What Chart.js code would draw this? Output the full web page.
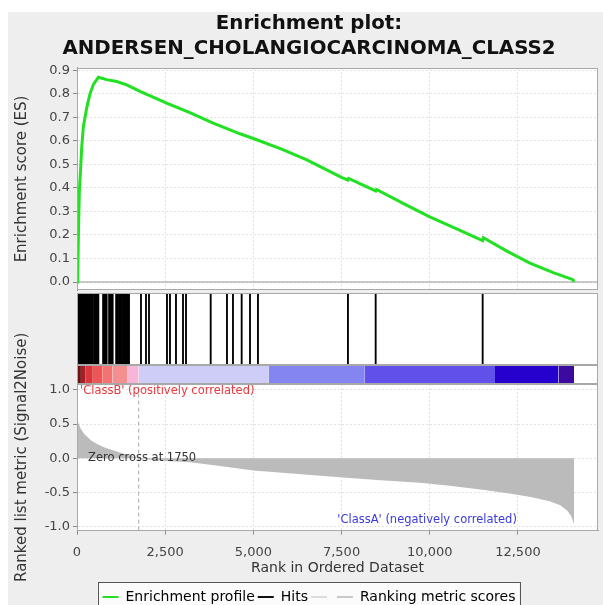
<!DOCTYPE html>
<html>
<head>
<meta charset="utf-8">
<script src="https://cdn.jsdelivr.net/npm/chart.js@4.4.0/dist/chart.umd.min.js"></script>
<style>
  html, body { margin: 0; padding: 0; background: #fff; }
  #page { position: relative; width: 603px; height: 605px; overflow: hidden; }
  #bg { position: absolute; left: 8px; top: 12px; right: 0; bottom: 0; background: #eeeeee; }
  canvas { position: absolute; left: 0; }
</style>
</head>
<body>
<div id="page">
  <div id="bg"></div>
  <canvas id="rankChart" style="top:292px;width:618px;height:313px" width="618" height="313"></canvas>
  <canvas id="esChart" style="top:0px;width:618px;height:292px" width="618" height="292"></canvas>
  <canvas id="hitsChart" style="top:293px;width:603px;height:72px" width="603" height="72"></canvas>
  <canvas id="barChart" style="top:365px;width:603px;height:19px" width="603" height="19"></canvas>
</div>
<script>
// axis ranges and ticks
const X_MAX = 14770;
const X_TICKS = [0, 2500, 5000, 7500, 10000, 12500];
const ES_TICKS = [0, 0.1, 0.2, 0.3, 0.4, 0.5, 0.6, 0.7, 0.8, 0.9];
const RANK_TICKS = [-1, -0.5, 0, 0.5, 1];
const ZERO_CROSS = 1750;

// running enrichment score
const esRank = [0, 20, 40, 65, 105, 133, 180, 275, 370, 465, 560, 605, 840, 1125, 1410, 1786, 2540, 3200, 3860,
  4620, 5000, 5800, 6500, 7500, 7680, 7700, 8470, 8490, 9300, 10000, 10700, 11420, 11500, 11520, 12200, 12840,
  13500, 14060, 14090];
const esScore = [0, 0.02, 0.2, 0.38, 0.49, 0.57, 0.66, 0.74, 0.80, 0.84, 0.86, 0.87, 0.86, 0.852, 0.838, 0.81,
  0.76, 0.72, 0.675, 0.63, 0.61, 0.565, 0.52, 0.445, 0.433, 0.44, 0.387, 0.393, 0.33, 0.277, 0.23, 0.181, 0.176,
  0.188, 0.13, 0.08, 0.04, 0.01, 0];

// positions of gene set members in the ranked list
const hitRanks = [35, 60, 85, 110, 135, 160, 185, 210, 235, 260, 285, 310, 335, 360, 385, 410, 430, 450,
  490, 515, 540, 565, 590, 605, 740, 765, 790, 815, 840, 910, 935, 960, 985, 1010, 1110, 1135, 1160,
  1195, 1220, 1245, 1270, 1305, 1330, 1355, 1380, 1405, 1430, 1455, 1474,
  1814, 1956, 2041, 2551, 2636, 2806, 3005, 3090, 3790, 4252, 4422, 4668, 4904, 5130, 7681, 8467, 11500];

// ranked list metric (signal2noise)
const metricRank = [0, 50, 100, 200, 400, 600, 800, 1000, 1300, 1500, 1750, 2200, 3200, 4000, 5000, 6000, 7450,
  8500, 9720, 10500, 11500, 12300, 12900, 13400, 13700, 13900, 14000, 14060, 14090];
const metricValue = [0.58, 0.50, 0.44, 0.36, 0.26, 0.20, 0.155, 0.12, 0.07, 0.04, 0, -0.03, -0.06, -0.11, -0.18,
  -0.22, -0.28, -0.32, -0.36, -0.40, -0.46, -0.52, -0.57, -0.63, -0.69, -0.77, -0.84, -0.92, -0.97];

// colour bar under the hits
const barEdges = [0, 110, 230, 450, 730, 1000, 1420, 1750, 5440, 8160, 11850, 13650, 14090];
const barColors = ['#6e1214', '#a51f24', '#d9373c', '#ee5656', '#f37272', '#f58e8e', '#f6b6d8',
  '#cdcdf7', '#8585f2', '#6150ea', '#2600cc', '#3d0aa0'];

const legendNames = ['Enrichment profile', 'Hits', '', 'Ranking metric scores'];
const legendColors = ['#22e022', '#111111', '#dcdcdc', '#c8c8c8'];

const FONT = 'DejaVu Sans';

const xy = (xs, ys) => xs.map((x, i) => ({ x: x, y: ys[i] }));

// white plot background and grey frame
const panelPlugin = {
  id: 'panel',
  beforeDraw(chart) {
    const a = chart.chartArea, ctx = chart.ctx;
    ctx.save();
    ctx.fillStyle = '#ffffff';
    ctx.fillRect(a.left, a.top, a.right - a.left, a.bottom - a.top);
    ctx.restore();
  },
  afterDraw(chart) {
    const a = chart.chartArea, ctx = chart.ctx;
    ctx.save();
    ctx.strokeStyle = '#a8a8a8';
    ctx.lineWidth = 1;
    ctx.strokeRect(Math.round(a.left) + 0.5, Math.round(a.top) + 0.5,
      Math.round(a.right - a.left) - 1, Math.round(a.bottom - a.top) - 1);
    ctx.restore();
  }
};

const fixTicks = list => scale => { scale.ticks = list.map(v => ({ value: v })); };

// empty right-hand axis: keeps the plot edge at 598 while title/legend centre on the wider canvas
const spacerAxis = {
  position: 'right',
  afterFit: s => { s.width = 20; },
  ticks: { display: false },
  grid: { display: false },
  border: { display: false }
};

// top panel: enrichment score
new Chart(document.getElementById('esChart'), {
  type: 'line',
  data: {
    datasets: [
      { data: xy(esRank, esScore), borderColor: '#22e022', borderWidth: 3, pointRadius: 0, tension: 0 },
      { data: [{ x: 0, y: 0 }, { x: X_MAX, y: 0 }], borderColor: '#999999', borderWidth: 1, pointRadius: 0 }
    ]
  },
  options: {
    responsive: false,
    animation: false,
    layout: { padding: { left: 0, right: 0, top: 0, bottom: 2 } },
    plugins: {
      legend: { display: false },
      tooltip: { enabled: false },
      title: {
        display: true,
        text: ['Enrichment plot:', 'ANDERSEN_CHOLANGIOCARCINOMA_CLASS2'],
        color: '#111',
        font: { family: FONT, size: 19.8, weight: 'bold', lineHeight: 1.26 },
        padding: { top: 11, bottom: 7 }
      }
    },
    scales: {
      x: {
        type: 'linear', min: 0, max: X_MAX,
        afterBuildTicks: fixTicks(X_TICKS),
        ticks: { display: false },
        grid: { color: '#e2e2e2', drawTicks: false },
        border: { display: false, dash: [2, 2] }
      },
      y: {
        min: -0.034, max: 0.91,
        afterBuildTicks: fixTicks(ES_TICKS),
        afterFit: s => { s.width = 77; s.paddingBottom = 0; },
        ticks: { color: '#444', font: { family: FONT, size: 13 }, padding: 3, callback: v => v.toFixed(1) },
        grid: { color: '#e2e2e2', tickColor: '#888', tickLength: 4 },
        border: { color: '#999', dash: [2, 2] },
        title: { display: true, text: 'Enrichment score (ES)', color: '#333', font: { family: FONT, size: 15 }, padding: { top: 13 } }
      },
      y2: spacerAxis
    }
  },
  plugins: [panelPlugin]
});

// hits
new Chart(document.getElementById('hitsChart'), {
  type: 'bar',
  data: {
    datasets: [{ data: hitRanks.map(r => ({ x: r, y: 1 })), backgroundColor: '#000', barThickness: 1.2, borderWidth: 0 }]
  },
  options: {
    responsive: false,
    animation: false,
    layout: { padding: { left: 77, right: 5 } },
    plugins: { legend: { display: false }, tooltip: { enabled: false } },
    scales: {
      x: { type: 'linear', min: 0, max: X_MAX, offset: false, display: false },
      y: { min: 0, max: 1, display: false }
    }
  },
  plugins: [panelPlugin]
});

// colour bar
new Chart(document.getElementById('barChart'), {
  type: 'line',
  data: {
    datasets: barColors.map((c, i) => ({
      data: [{ x: barEdges[i], y: 1 }, { x: barEdges[i + 1], y: 1 }],
      backgroundColor: c, borderColor: 'rgba(0,0,0,0)', fill: 'origin', pointRadius: 0
    }))
  },
  options: {
    responsive: false,
    animation: false,
    layout: { padding: { left: 77, right: 5 } },
    plugins: { legend: { display: false }, tooltip: { enabled: false } },
    scales: {
      x: { type: 'linear', min: 0, max: X_MAX, display: false },
      y: { min: 0, max: 1, display: false }
    }
  },
  plugins: [panelPlugin]
});

// labels inside the ranked panel, box round the legend
const rankExtras = {
  id: 'rankExtras',
  beforeDraw(chart) {
    const boxes = chart.legend && chart.legend.legendHitBoxes;
    if (!boxes || !boxes.length) return;
    const l = Math.min(...boxes.map(b => b.left)) - 5;
    const r = Math.max(...boxes.map(b => b.left + b.width)) + 4;
    const t = boxes[0].top - 8;
    const ctx = chart.ctx;
    ctx.save();
    ctx.fillStyle = '#fbfbfb';
    ctx.fillRect(l, t, r - l, 40);
    ctx.strokeStyle = '#555';
    ctx.lineWidth = 1;
    ctx.strokeRect(Math.round(l) + 0.5, Math.round(t) + 0.5, Math.round(r - l), 40);
    ctx.restore();
  },
  afterDatasetsDraw(chart) {
    const ctx = chart.ctx, xs = chart.scales.x, ys = chart.scales.y;
    ctx.save();
    ctx.font = '11.5px "' + FONT + '"';
    ctx.textBaseline = 'middle';
    ctx.textAlign = 'left';
    ctx.fillStyle = '#e8393f';
    ctx.fillText("'ClassB' (positively correlated)", xs.getPixelForValue(85), ys.getPixelForValue(0.98));
    ctx.fillStyle = '#333';
    ctx.fillText('Zero cross at ' + ZERO_CROSS, xs.getPixelForValue(312), ys.getPixelForValue(0));
    ctx.textAlign = 'right';
    ctx.fillStyle = '#3a3ad8';
    ctx.fillText("'ClassA' (negatively correlated)", xs.getPixelForValue(12470), ys.getPixelForValue(-0.9));
    ctx.restore();
  }
};

// bottom panel: ranked list metric
new Chart(document.getElementById('rankChart'), {
  type: 'line',
  data: {
    datasets: [
      { data: [{ x: ZERO_CROSS, y: -1.06 }, { x: ZERO_CROSS, y: 1.087 }], borderColor: '#aaaaaa', borderDash: [4, 3], borderWidth: 1, pointRadius: 0 },
      { data: xy(metricRank, metricValue), borderColor: 'rgba(0,0,0,0)', backgroundColor: '#bbbbbb', fill: 'origin', pointRadius: 0, tension: 0 }
    ]
  },
  options: {
    responsive: false,
    animation: false,
    layout: { padding: { left: 0, right: 0, top: 92, bottom: -9 } },
    plugins: {
      tooltip: { enabled: false },
      legend: {
        display: true,
        position: 'bottom',
        labels: {
          font: { family: FONT, size: 14 },
          color: '#222',
          boxWidth: 16,
          boxHeight: 2,
          padding: 3,
          generateLabels: () => legendNames.map((n, i) => ({
            text: n, fillStyle: legendColors[i], strokeStyle: legendColors[i], lineWidth: 0, hidden: false
          }))
        }
      }
    },
    scales: {
      x: {
        type: 'linear', min: 0, max: X_MAX,
        afterBuildTicks: fixTicks(X_TICKS),
        ticks: { color: '#444', font: { family: FONT, size: 13 }, padding: 10, callback: v => v.toLocaleString('en-US') },
        grid: { color: '#e2e2e2', tickColor: '#888', tickLength: 4 },
        border: { color: '#999', dash: [2, 2] },
        title: { display: true, text: 'Rank in Ordered Dataset', color: '#333', font: { family: FONT, size: 14 }, padding: { top: -10, bottom: 10 } }
      },
      y: {
        min: -1.06, max: 1.087,
        afterBuildTicks: fixTicks(RANK_TICKS),
        afterFit: s => { s.width = 77; },
        ticks: { color: '#444', font: { family: FONT, size: 13 }, padding: 3, callback: v => v.toFixed(1) },
        grid: { color: '#e2e2e2', tickColor: '#888', tickLength: 4 },
        border: { color: '#999', dash: [2, 2] },
        title: { display: true, text: 'Ranked list metric (Signal2Noise)', color: '#333', font: { family: FONT, size: 15 }, padding: { top: 13 } }
      },
      y2: spacerAxis
    }
  },
  plugins: [panelPlugin, rankExtras]
});
</script>
</body>
</html>
